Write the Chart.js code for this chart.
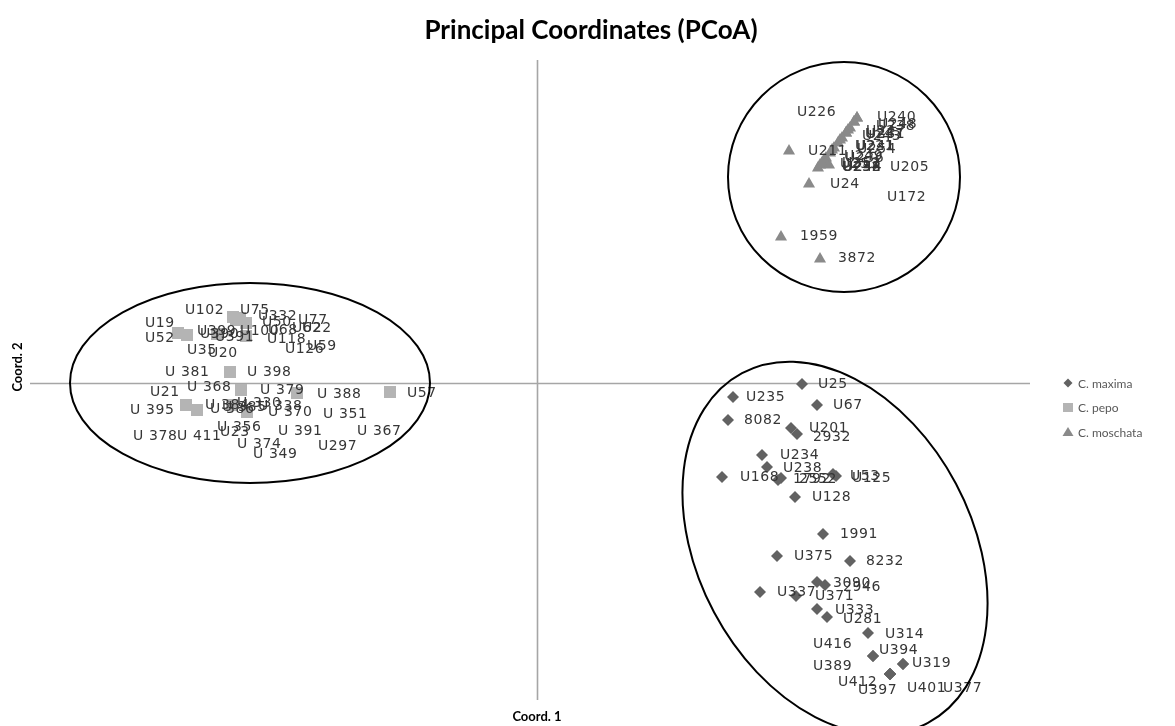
<!DOCTYPE html>
<html>
<head>
<meta charset="utf-8">
<script src="https://cdn.jsdelivr.net/npm/chart.js@4.4.1/dist/chart.umd.min.js"></script>
<style>
  html, body { margin: 0; padding: 0; background: #ffffff; }
  #wrap { width: 1175px; height: 726px; position: relative; }
</style>
</head>
<body>
<div id="wrap"><canvas id="pcoa"></canvas></div>
<script>
// ---- Principal coordinate scores (Coord. 1, Coord. 2) per accession ----

// C. maxima
const maximaNames = ['U25','U235','U67','8082','U201','2932','U234','U238','U168','1792','2552','U53','U125','U128',
  '1991','U375','8232','3090','2946','U337','U371','U333','U281','U314','U416','U394','U319','U389','U412','U397','U401','U377'];
const maximaC1 = [0.265,0.196,0.280,0.191,0.254,0.260,0.225,0.230,0.185,0.241,0.244,0.296,0.299,0.258,
  0.286,0.240,0.313,0.280,0.288,0.223,0.259,0.280,0.290,0.331,0.336,0.336,0.366,0.353,0.353,0.353,0.353,0.366];
const maximaC2 = [-0.001,-0.014,-0.022,-0.037,-0.045,-0.051,-0.072,-0.084,-0.094,-0.097,-0.095,-0.091,-0.093,-0.114,
  -0.151,-0.173,-0.178,-0.199,-0.202,-0.209,-0.213,-0.226,-0.234,-0.250,-0.273,-0.273,-0.281,-0.291,-0.291,-0.291,-0.291,-0.281];

// C. pepo
const pepoNames = ['U19','U52','U102','U75','U332','U50','U77','U62','U22','U399','U390','U100','U68','U391','U118',
  'U126','U59','U35','U20','U 381','U 398','U21','U 368','U 379','U 388','U57','U 395','U 384','U 386','U 385',
  'U 330','U 338','U 370','U 351','U 356','U 378','U 411','U23','U 391','U 367','U 374','U297','U 349'];
const pepoC1 = [-0.359,-0.350,-0.304,-0.301,-0.297,-0.291,-0.291,-0.291,-0.291,-0.320,-0.320,-0.291,-0.291,-0.320,-0.291,
  -0.291,-0.291,-0.350,-0.320,-0.307,-0.307,-0.351,-0.351,-0.296,-0.240,-0.147,-0.351,-0.340,-0.305,-0.305,
  -0.290,-0.290,-0.290,-0.290,-0.290,-0.351,-0.340,-0.290,-0.290,-0.240,-0.290,-0.240,-0.290];
const pepoC2 = [0.050,0.048,0.066,0.063,0.065,0.060,0.047,0.047,0.047,0.049,0.049,0.047,0.047,0.049,0.047,
  0.047,0.047,0.048,0.049,0.011,0.011,-0.022,-0.022,-0.007,-0.010,-0.009,-0.022,-0.027,-0.022,-0.022,
  -0.029,-0.029,-0.029,-0.029,-0.029,-0.022,-0.027,-0.029,-0.029,-0.010,-0.029,-0.010,-0.029];

// C. moschata
const moschataNames = ['U226','U240','U238','U248','U227','U231','U243','U247','U221','U241','U254','U249','U211','U236',
  'U244','U258','U252','U253','U232','U205','U172','U24','1959','3872'];
const moschataC1 = [0.320,0.320,0.317,0.317,0.313,0.311,0.309,0.309,0.305,0.303,0.301,0.295,0.252,0.293,
  0.292,0.289,0.287,0.283,0.281,0.285,0.297,0.272,0.244,0.283];
const moschataC2 = [0.265,0.265,0.261,0.261,0.255,0.253,0.250,0.250,0.245,0.243,0.240,0.233,0.232,0.230,
  0.218,0.225,0.223,0.218,0.215,0.220,0.235,0.199,0.146,0.124];

// Label placement relative to each marker, in pixels [dx, dy]
const maximaLabelShift = [[16,0],[13,0],[16,0],[16,0],[18,0],[16,3],[18,0],[16,1],[18,0],[15,-1],[18,1],[17,2],[16,2],[17,0],
  [17,0],[17,0],[16,0],[16,1],[18,2],[17,0],[19,0],[18,1],[16,2],[17,1],[-60,-12],[6,-6],[9,-1],[-77,-8],[-52,8],[-32,16],[17,14],[40,24]];
const pepoLabelShift = [[-33,-10],[-42,3],[-48,-7],[4,-10],[18,-2],[16,-1],[52,-16],[46,-8],[56,-8],[-20,-3],[-17,0],[-6,-5],[22,-6],[-2,3],[21,3],
  [39,13],[61,10],[0,15],[-9,19],[-65,0],[17,0],[-36,-13],[1,-18],[19,0],[20,1],[17,1],[-56,5],[8,-5],[-22,4],[-10,2],
  [-10,-9],[11,-6],[21,0],[76,2],[-30,15],[-53,31],[-20,26],[-27,20],[31,19],[60,38],[-10,32],[21,53],[6,42]];
const moschataLabelShift = [[-60,-6],[20,-1],[22,4],[24,2],[16,3],[18,4],[16,3],[19,1],[13,8],[16,6],[19,6],[12,6],[19,0],[15,5],
  [14,2],[16,9],[18,3],[20,-1],[24,-1],[68,4],[53,49],[21,0],[19,-1],[18,-1]];

// Group outlines drawn around each species cluster: centre (data units), semi-axes (data units), rotation (deg)
const groupOutlines = [
  { cx: 0.307, cy: 0.206, rx: 0.116, ry: 0.115, rot: 0 },
  { cx: -0.287, cy: 0.000, rx: 0.180, ry: 0.100, rot: 0 },
  { cx: 0.298, cy: -0.165, rx: 0.198, ry: 0.137, rot: 62 }
];

const COLORS = { maxima: '#626262', pepo: '#b4b4b4', moschata: '#8a8a8a' };

const toPoints = (xs, ys) => xs.map((x, i) => ({ x: x, y: ys[i] }));

// crossing zero axes
const zeroAxes = {
  id: 'zeroAxes',
  beforeDatasetsDraw(chart) {
    const { ctx, chartArea: a, scales: { x, y } } = chart;
    const x0 = Math.round(x.getPixelForValue(0)) + 0.5;
    const y0 = Math.round(y.getPixelForValue(0)) + 0.5;
    ctx.save();
    ctx.strokeStyle = '#a6a6a6';
    ctx.lineWidth = 1.6;
    ctx.beginPath();
    ctx.moveTo(a.left, y0); ctx.lineTo(a.right, y0);
    ctx.moveTo(x0, a.top); ctx.lineTo(x0, a.bottom);
    ctx.stroke();
    ctx.restore();
  }
};

// accession names beside markers, then cluster outlines on top
const labelsAndOutlines = {
  id: 'labelsAndOutlines',
  afterDatasetsDraw(chart) {
    const { ctx, scales: { x, y } } = chart;
    ctx.save();
    ctx.font = '14px "DejaVu Sans"';
    try { ctx.letterSpacing = '0.6px'; } catch (e) {}
    ctx.fillStyle = '#363636';
    ctx.textBaseline = 'middle';
    ctx.textAlign = 'left';
    chart.data.datasets.forEach((ds, di) => {
      const meta = chart.getDatasetMeta(di);
      meta.data.forEach((pt, i) => {
        const s = ds.labelShift[i];
        ctx.fillText(ds.names[i], pt.x + s[0], pt.y + s[1]);
      });
    });
    ctx.restore();

    ctx.save();
    ctx.strokeStyle = '#000000';
    ctx.lineWidth = 2;
    const pxPerUnitX = Math.abs(x.getPixelForValue(1) - x.getPixelForValue(0));
    const pxPerUnitY = Math.abs(y.getPixelForValue(1) - y.getPixelForValue(0));
    groupOutlines.forEach(g => {
      ctx.beginPath();
      ctx.ellipse(x.getPixelForValue(g.cx), y.getPixelForValue(g.cy),
        g.rx * pxPerUnitX, g.ry * pxPerUnitY, g.rot * Math.PI / 180, 0, Math.PI * 2);
      ctx.stroke();
    });
    ctx.restore();
  }
};

// title, axis titles and legend
const frameText = {
  id: 'frameText',
  afterDraw(chart) {
    const { ctx } = chart;
    ctx.save();
    ctx.fillStyle = '#000000';
    ctx.textAlign = 'center';
    ctx.textBaseline = 'middle';
    ctx.font = 'bold 26px Lato';
    ctx.fillText('Principal Coordinates (PCoA)', 591, 31);

    ctx.font = 'bold 13px Lato';
    ctx.fillText('Coord. 1', 537, 717);
    ctx.save();
    ctx.translate(18, 367);
    ctx.rotate(-Math.PI / 2);
    ctx.fillText('Coord. 2', 0, 0);
    ctx.restore();

    // legend
    const items = [
      { text: 'C. maxima', color: COLORS.maxima, shape: 'diamond' },
      { text: 'C. pepo', color: COLORS.pepo, shape: 'square' },
      { text: 'C. moschata', color: COLORS.moschata, shape: 'triangle' }
    ];
    ctx.textAlign = 'left';
    ctx.font = '12px Lato';
    items.forEach((it, i) => {
      const lx = 1068, ly = 383 + i * 24.5;
      ctx.fillStyle = it.color;
      ctx.beginPath();
      if (it.shape === 'diamond') {
        ctx.moveTo(lx, ly - 4.5); ctx.lineTo(lx + 4.5, ly); ctx.lineTo(lx, ly + 4.5); ctx.lineTo(lx - 4.5, ly);
      } else if (it.shape === 'square') {
        ctx.rect(lx - 5, ly - 4.5, 10, 9);
      } else {
        ctx.moveTo(lx, ly - 5); ctx.lineTo(lx + 5.5, ly + 4); ctx.lineTo(lx - 5.5, ly + 4);
      }
      ctx.closePath();
      ctx.fill();
      ctx.fillStyle = '#595959';
      ctx.fillText(it.text, 1078, ly + 1);
    });
    ctx.restore();
  }
};

new Chart(document.getElementById('pcoa'), {
  type: 'scatter',
  data: {
    datasets: [
      {
        label: 'C. maxima',
        data: toPoints(maximaC1, maximaC2),
        names: maximaNames,
        labelShift: maximaLabelShift,
        pointStyle: 'rectRot',
        pointRadius: 6,
        backgroundColor: COLORS.maxima,
        borderColor: COLORS.maxima,
        borderWidth: 0
      },
      {
        label: 'C. pepo',
        data: toPoints(pepoC1, pepoC2),
        names: pepoNames,
        labelShift: pepoLabelShift,
        pointStyle: 'rect',
        pointRadius: 8.5,
        backgroundColor: COLORS.pepo,
        borderColor: COLORS.pepo,
        borderWidth: 0
      },
      {
        label: 'C. moschata',
        data: toPoints(moschataC1, moschataC2),
        names: moschataNames,
        labelShift: moschataLabelShift,
        pointStyle: 'triangle',
        pointRadius: 7,
        backgroundColor: COLORS.moschata,
        borderColor: COLORS.moschata,
        borderWidth: 0
      }
    ]
  },
  options: {
    responsive: true,
    maintainAspectRatio: false,
    animation: false,
    events: [],
    layout: { padding: { left: 30, right: 145, top: 60, bottom: 26 } },
    scales: {
      x: { type: 'linear', min: -0.507, max: 0.493, display: false },
      y: { type: 'linear', min: -0.317, max: 0.323, display: false }
    },
    plugins: {
      legend: { display: false },
      title: { display: false },
      tooltip: { enabled: false }
    }
  },
  plugins: [zeroAxes, labelsAndOutlines, frameText]
});
</script>
</body>
</html>
